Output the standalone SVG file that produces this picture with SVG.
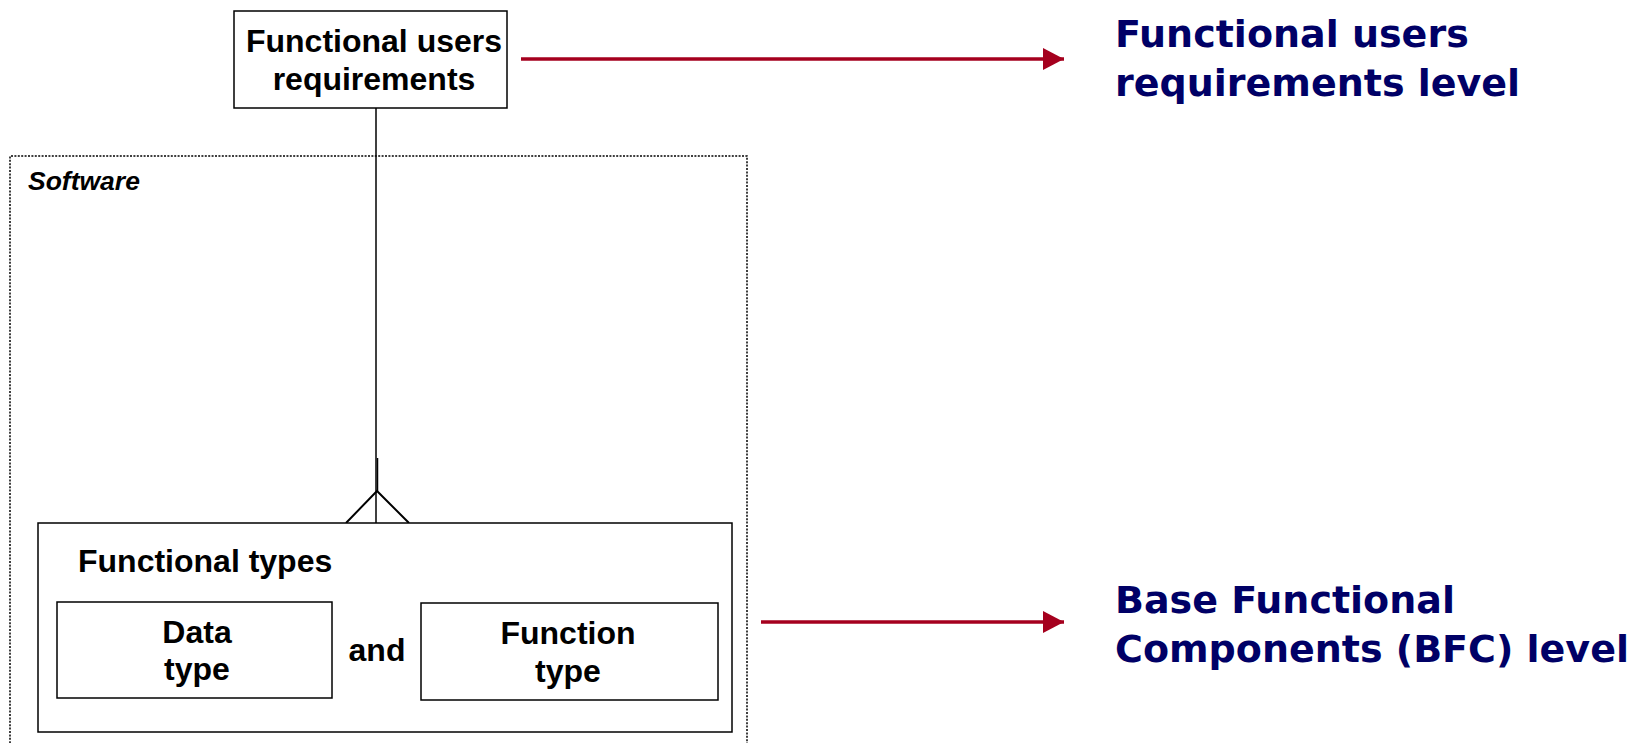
<svg xmlns="http://www.w3.org/2000/svg" width="1644" height="743" viewBox="0 0 1644 743">
<style>
.box{fill:#fff;stroke:#000;stroke-width:1.5}
.lbl{font-family:"Liberation Sans",Arial,sans-serif;font-weight:bold;font-size:32px;fill:#000}
.sw{font-family:"Liberation Sans",Arial,sans-serif;font-weight:bold;font-style:italic;font-size:26.5px;fill:#000}
.lvl{font-family:"DejaVu Sans",Verdana,sans-serif;font-weight:bold;font-size:38px;fill:#000066}
.red{stroke:#A5001E;stroke-width:3.5;fill:none}
</style>
<defs>
<marker id="ah" markerUnits="userSpaceOnUse" markerWidth="22" markerHeight="24" refX="21" refY="12" orient="auto">
<path d="M0,1 L21,12 L0,23 Z" fill="#A5001E"/>
</marker>
</defs>
<rect width="1644" height="743" fill="#fff"/>
<g id="software">
<path d="M10,750 V156 H747 V750" fill="none" stroke="#000" stroke-width="1.5" stroke-dasharray="2,1.4"/>
<text x="28" y="190" class="sw">Software</text>
</g>
<g id="connectors">
<line x1="376" y1="108" x2="376" y2="523" stroke="#000" stroke-width="1.5"/>
<line x1="377.5" y1="458" x2="377.5" y2="491" stroke="#000" stroke-width="1.5"/>
<polyline points="346,523 377,491 409,523" fill="none" stroke="#000" stroke-width="2"/>
<line x1="521" y1="59" x2="1064" y2="59" class="red" marker-end="url(#ah)"/>
<line x1="761" y1="622" x2="1064" y2="622" class="red" marker-end="url(#ah)"/>
</g>
<g id="fur">
<rect x="234" y="11" width="273" height="97" class="box"/>
<text x="374" y="52" class="lbl" text-anchor="middle">Functional users</text>
<text x="374" y="90" class="lbl" text-anchor="middle">requirements</text>
</g>
<g id="functional-types">
<rect x="38" y="523" width="694" height="209" class="box"/>
<text x="78" y="572" class="lbl">Functional types</text>
</g>
<g id="data-type">
<rect x="57" y="602" width="275" height="96" class="box"/>
<text x="197" y="643" class="lbl" text-anchor="middle">Data</text>
<text x="197" y="680" class="lbl" text-anchor="middle">type</text>
</g>
<g id="and">
<text x="377" y="661" class="lbl" text-anchor="middle">and</text>
</g>
<g id="function-type">
<rect x="421" y="603" width="297" height="97" class="box"/>
<text x="568" y="644" class="lbl" text-anchor="middle">Function</text>
<text x="568" y="682" class="lbl" text-anchor="middle">type</text>
</g>
<g id="fur-level">
<text x="1115" y="47" class="lvl">Functional users</text>
<text x="1115" y="96" class="lvl">requirements level</text>
</g>
<g id="bfc-level">
<text x="1115" y="613" class="lvl">Base Functional</text>
<text x="1115" y="662" class="lvl">Components (BFC) level</text>
</g>
</svg>
